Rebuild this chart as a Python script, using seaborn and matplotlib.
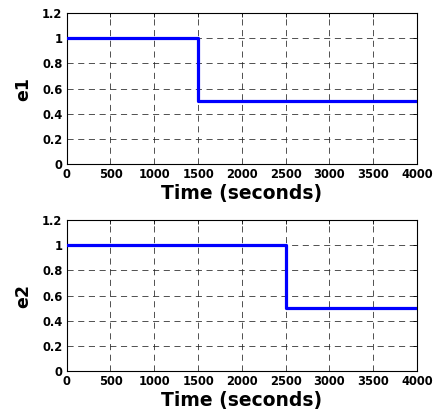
import matplotlib as mpl
import matplotlib.pyplot as plt
import numpy as np
import pandas as pd
import seaborn as sns

# Step signals
time_e1 = [0, 1500, 4000]
e1 = [1.0, 0.5, 0.5]
time_e2 = [0, 2500, 4000]
e2 = [1.0, 0.5, 0.5]

X_TICKS = [0, 500, 1000, 1500, 2000, 2500, 3000, 3500, 4000]
X_LABELS = [str(x) for x in X_TICKS]
Y_TICKS = [0, 0.2, 0.4, 0.6, 0.8, 1.0, 1.2]
Y_LABELS = ["0", "0.2", "0.4", "0.6", "0.8", "1", "1.2"]

sns.set_style("white")
plt.rcParams["font.family"] = ["DejaVu Sans"]
plt.rcParams["font.weight"] = "bold"
for key in ["text.color", "axes.labelcolor", "xtick.color", "ytick.color"]:
    plt.rcParams[key] = "black"

fig = plt.figure(figsize=(4.34, 4.11), dpi=100)
ax1 = fig.add_axes([0.1536, 0.601, 0.8074, 0.367])
ax2 = fig.add_axes([0.1536, 0.098, 0.8074, 0.366])

panels = [(ax1, time_e1, e1, "e1"), (ax2, time_e2, e2, "e2")]

for ax, t, v, name in panels:
    df = pd.DataFrame({"time": t, "value": v})
    sns.lineplot(
        data=df,
        x="time",
        y="value",
        drawstyle="steps-post",
        color="#0000ff",
        linewidth=2.3,
        ax=ax,
        zorder=3,
    )
    ax.set_xlim(0, 4000)
    ax.set_ylim(0, 1.2)
    ax.set_xticks(X_TICKS, labels=X_LABELS, fontweight="bold", fontsize=8.3)
    ax.set_yticks(Y_TICKS, labels=Y_LABELS, fontweight="bold", fontsize=8.3)
    ax.grid(True, color="#222222", linestyle=(0, (8, 6)), linewidth=0.55)
    ax.set_axisbelow(True)
    ax.tick_params(
        direction="in", length=3, width=0.6, top=True, right=True, pad=3,
    )
    for s in ax.spines.values():
        s.set_color("black")
        s.set_linewidth(0.8)
    ax.set_xlabel("Time (seconds)", fontsize=13.5, fontweight="bold", labelpad=2)
    ax.set_ylabel(name, fontsize=12.5, fontweight="bold", labelpad=7)

fig.savefig("out.png", dpi=100)
